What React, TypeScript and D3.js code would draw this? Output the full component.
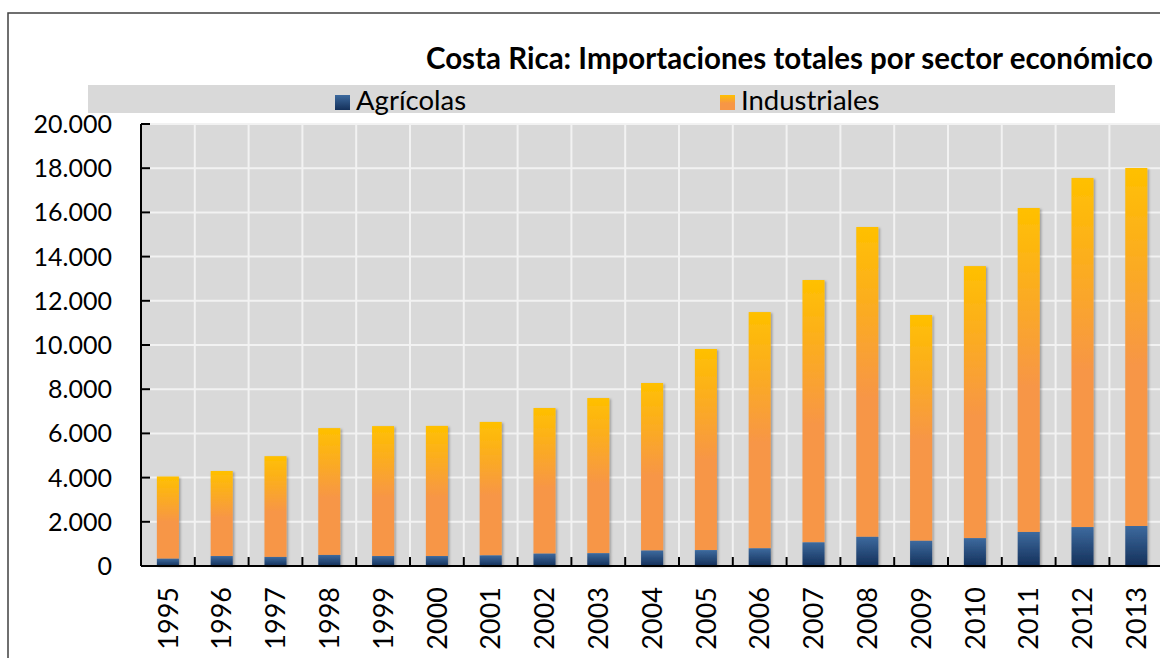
import React, { useEffect, useRef } from 'react';
import * as d3 from 'd3';

const years = ['1995', '1996', '1997', '1998', '1999', '2000', '2001', '2002', '2003', '2004',
  '2005', '2006', '2007', '2008', '2009', '2010', '2011', '2012', '2013'];

const agricolas = [330, 450, 410, 500, 450, 450, 480, 560, 580, 700,
  720, 800, 1070, 1320, 1140, 1260, 1540, 1760, 1810];

const totales = [4050, 4300, 4970, 6240, 6330, 6340, 6520, 7150, 7600, 8280,
  9820, 11490, 12940, 15340, 11360, 13570, 16200, 17560, 18010];

const industriales = totales.map((t, i) => t - agricolas[i]);

const yTicks = [0, 2000, 4000, 6000, 8000, 10000, 12000, 14000, 16000, 18000, 20000];

const title = 'Costa Rica: Importaciones totales por sector económico';
const seriesNames = ['Agrícolas', 'Industriales'];

const FONT = 'Lato, "Open Sans", sans-serif';

const App: React.FC = () => {
  const svgRef = useRef<SVGSVGElement>(null);

  useEffect(() => {
    if (!svgRef.current) return;
    const svg = d3.select(svgRef.current);
    svg.selectAll('*').remove();

    const W = 1160;
    const H = 658;
    const plot = { left: 141, top: 124, bottom: 566, step: 53.8 };

    const x = d3.scaleBand<string>()
      .domain(years)
      .range([plot.left, plot.left + plot.step * years.length])
      .padding(0);

    const y = d3.scaleLinear().domain([0, 20000]).range([plot.bottom, plot.top]);

    const defs = svg.append('defs');
    const gBlue = defs.append('linearGradient').attr('id', 'gradBlue')
      .attr('x1', 0).attr('y1', 0).attr('x2', 0).attr('y2', 1);
    gBlue.append('stop').attr('offset', '0%').attr('stop-color', '#3d6a9e');
    gBlue.append('stop').attr('offset', '100%').attr('stop-color', '#14305a');

    const gOrange = defs.append('linearGradient').attr('id', 'gradOrange')
      .attr('x1', 0).attr('y1', 0).attr('x2', 0).attr('y2', 1);
    gOrange.append('stop').attr('offset', '0%').attr('stop-color', '#ffc000');
    gOrange.append('stop').attr('offset', '55%').attr('stop-color', '#f79646');
    gOrange.append('stop').attr('offset', '100%').attr('stop-color', '#f79646');

    const shadow = defs.append('filter').attr('id', 'shadow')
      .attr('x', '-20%').attr('y', '-5%').attr('width', '150%').attr('height', '115%');
    shadow.append('feDropShadow').attr('dx', 1.5).attr('dy', 1).attr('stdDeviation', 1)
      .attr('flood-color', '#000').attr('flood-opacity', 0.3);

    // outer frame
    svg.append('rect').attr('x', 8).attr('y', 13).attr('width', W + 20).attr('height', H + 20)
      .attr('fill', '#fff').attr('stroke', '#404040').attr('stroke-width', 1.5);

    // title
    svg.append('text')
      .attr('x', 1153).attr('y', 69)
      .attr('text-anchor', 'end')
      .style('font-family', FONT)
      .style('font-weight', 'bold')
      .style('font-size', '29.5px')
      .style('fill', '#000')
      .text(title);

    // legend band
    svg.append('rect').attr('x', 88).attr('y', 85).attr('width', 1027).attr('height', 28)
      .attr('fill', '#d9d9d9');
    const legendItems = [
      { name: seriesNames[0], x: 335, fill: 'url(#gradBlue)' },
      { name: seriesNames[1], x: 720, fill: 'url(#gradOrange)' }
    ];
    legendItems.forEach(item => {
      svg.append('rect').attr('x', item.x).attr('y', 95).attr('width', 15).attr('height', 15)
        .attr('fill', item.fill);
      svg.append('text').attr('x', item.x + 21).attr('y', 110)
        .style('font-family', FONT).style('font-size', '27.5px').style('fill', '#000')
        .text(item.name);
    });

    // plot background
    const [rx0, rx1] = x.range();
    svg.append('rect').attr('x', rx0).attr('y', plot.top)
      .attr('width', rx1 - rx0).attr('height', plot.bottom - plot.top)
      .attr('fill', '#d9d9d9');

    // gridlines
    yTicks.filter(t => t > 0).forEach(t => {
      svg.append('line')
        .attr('x1', rx0).attr('x2', rx1)
        .attr('y1', y(t)).attr('y2', y(t))
        .attr('stroke', '#f2f2f2').attr('stroke-width', 2);
    });
    years.forEach(yr => {
      const bx = (x(yr) || 0) + x.bandwidth();
      svg.append('line')
        .attr('x1', bx).attr('x2', bx)
        .attr('y1', plot.top).attr('y2', plot.bottom)
        .attr('stroke', '#f2f2f2').attr('stroke-width', 2);
    });

    // bars
    const barW = x.bandwidth() * 0.41;
    const bars = svg.append('g').attr('filter', 'url(#shadow)');
    years.forEach((yr, i) => {
      const cx = (x(yr) || 0) + x.bandwidth() / 2;
      bars.append('rect')
        .attr('x', cx - barW / 2).attr('width', barW)
        .attr('y', y(agricolas[i] + industriales[i])).attr('height', y(0) - y(industriales[i]))
        .attr('fill', 'url(#gradOrange)');
      bars.append('rect')
        .attr('x', cx - barW / 2).attr('width', barW)
        .attr('y', y(agricolas[i])).attr('height', y(0) - y(agricolas[i]))
        .attr('fill', 'url(#gradBlue)');
    });

    // axes
    svg.append('line').attr('x1', rx0).attr('x2', rx0)
      .attr('y1', plot.top).attr('y2', plot.bottom)
      .attr('stroke', '#000').attr('stroke-width', 2);
    svg.append('line').attr('x1', rx0).attr('x2', rx1)
      .attr('y1', plot.bottom).attr('y2', plot.bottom)
      .attr('stroke', '#000').attr('stroke-width', 2);

    yTicks.forEach(t => {
      svg.append('line').attr('x1', rx0).attr('x2', rx0 + 9)
        .attr('y1', y(t)).attr('y2', y(t))
        .attr('stroke', '#000').attr('stroke-width', 2);
      svg.append('text')
        .attr('x', 112).attr('y', y(t))
        .attr('dy', '0.36em')
        .attr('text-anchor', 'end')
        .style('font-family', FONT).style('font-size', '25px').style('fill', '#000')
        .text(t === 0 ? '0' : d3.format(',')(t).replace(/,/g, '.'));
    });

    years.forEach(yr => {
      const bx = (x(yr) || 0) + x.bandwidth();
      svg.append('line').attr('x1', bx).attr('x2', bx)
        .attr('y1', plot.bottom).attr('y2', plot.bottom - 9)
        .attr('stroke', '#000').attr('stroke-width', 2);
      const cx = (x(yr) || 0) + x.bandwidth() / 2;
      svg.append('text')
        .attr('transform', `translate(${cx},587) rotate(-90)`)
        .attr('dy', '0.36em')
        .attr('text-anchor', 'end')
        .style('font-family', FONT).style('font-size', '27px').style('fill', '#000')
        .text(yr);
    });
  }, []);

  return (
    <div style={{ position: 'absolute', left: 0, top: 0, width: 1160, height: 658, overflow: 'hidden', background: '#fff' }}>
      <svg ref={svgRef} width={1160} height={658} style={{ display: 'block' }}></svg>
    </div>
  );
};

export default App;
